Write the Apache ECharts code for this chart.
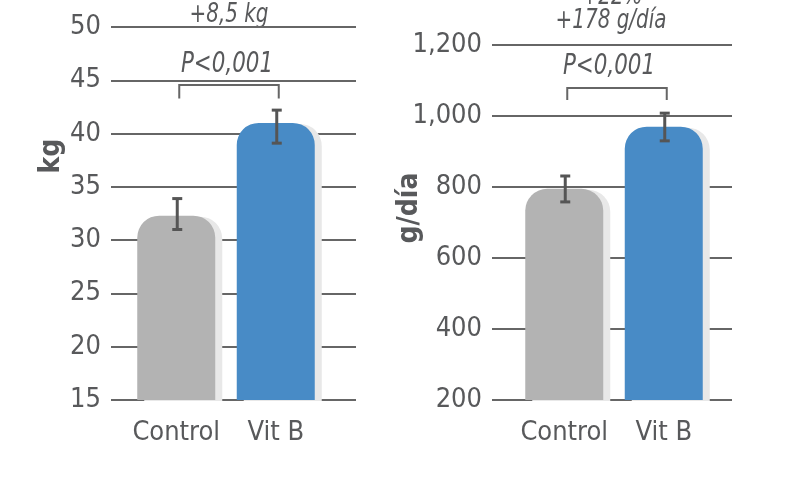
<!DOCTYPE html>
<html>
<head>
<meta charset="utf-8">
<script src="https://cdn.jsdelivr.net/npm/echarts@6/dist/echarts.min.js"></script>
<style>html,body{margin:0;padding:0;background:#fff}#c{width:800px;height:500px}</style>
</head>
<body>
<div id="c"></div>
<script>
// ---- data ----
var categories = ['Control', 'Vit B'];
var weightValues = [32.3, 41.0];        // kg
var weightErrLow = [31.0, 39.1];
var weightErrHigh = [33.9, 42.2];
var weightTicks = [15, 20, 25, 30, 35, 40, 45, 50];
var gainValues = [795, 970];            // g/día
var gainErrLow = [758, 930];
var gainErrHigh = [831, 1008];
var gainTicks = [200, 400, 600, 800, 1000, 1200];
var weightBracket = [44.55, 43.3];      // top, leg end
var gainBracket = [1079, 1045];
var barColors = ['#b3b3b3', '#488bc6'];

var FONT = '"Liberation Sans Narrow","DejaVu Sans Condensed","Roboto Condensed",sans-serif';
var TXT = '#58595b';
var GRIDC = '#666666';

function errSeries(xIdx, yIdx, low, high) {
  return {
    type: 'custom', xAxisIndex: xIdx, yAxisIndex: yIdx, z: 5,
    data: categories.map(function (c, i) { return [i, low[i], high[i]]; }),
    renderItem: function (params, api) {
      var lo = api.coord([api.value(0), api.value(1)]);
      var hi = api.coord([api.value(0), api.value(2)]);
      var x = lo[0] + 1, w = 5;
      var st = { stroke: '#555555', lineWidth: 3 };
      return { type: 'group', children: [
        { type: 'line', shape: { x1: x, y1: lo[1], x2: x, y2: hi[1] }, style: st },
        { type: 'line', shape: { x1: x - w, y1: lo[1], x2: x + w, y2: lo[1] }, style: st },
        { type: 'line', shape: { x1: x - w, y1: hi[1], x2: x + w, y2: hi[1] }, style: st }
      ]};
    }
  };
}
function bracketSeries(xIdx, yIdx, br) {
  return {
    type: 'custom', xAxisIndex: xIdx, yAxisIndex: yIdx, z: 5,
    data: [[0, 1, br[0], br[1]]],
    renderItem: function (params, api) {
      var a = api.coord([api.value(0), api.value(3)]);
      var b = api.coord([api.value(0), api.value(2)]);
      var c = api.coord([api.value(1), api.value(2)]);
      var d = api.coord([api.value(1), api.value(3)]);
      return { type: 'polyline', shape: { points: [[a[0] + 3, a[1]], [b[0] + 3, b[1]], [c[0] + 3, c[1]], [d[0] + 3, d[1]]] },
        style: { stroke: GRIDC, lineWidth: 2, fill: null } };
    }
  };
}
function barSeries(xIdx, yIdx, vals) {
  return {
    type: 'bar', xAxisIndex: xIdx, yAxisIndex: yIdx, barWidth: 78, z: 3,
    data: vals.map(function (v, i) {
      return { value: v, itemStyle: { color: barColors[i] } };
    }),
    itemStyle: { borderRadius: [22, 22, 0, 0], shadowColor: '#e8e8e8', shadowOffsetX: 7, shadowOffsetY: 1, shadowBlur: 0 }
  };
}
function valueAxis(gridIdx, ticks, show, fmt) {
  return {
    type: 'value', gridIndex: gridIdx, min: ticks[0], max: ticks[ticks.length - 1],
    interval: ticks[1] - ticks[0],
    axisLine: { show: false }, axisTick: { show: false },
    axisLabel: { show: show, color: TXT, fontFamily: FONT, fontSize: 27, margin: 10, formatter: fmt },
    splitLine: { show: show, lineStyle: { color: GRIDC, width: 2 } }
  };
}
function catAxis(gridIdx, show) {
  return {
    type: 'category', gridIndex: gridIdx, data: categories, show: show,
    axisLine: { show: false }, axisTick: { show: false },
    axisLabel: { interval: 0, color: TXT, fontFamily: FONT, fontSize: 27, margin: 19 }
  };
}
var fmtComma = function (v) { return String(v).replace(/\B(?=(\d{3})+(?!\d))/g, ','); };

function ann(x, y, text, size, extra) {
  var o = { type: 'text', x: x, y: y, scaleX: 0.82, style: { text: text, font: (extra || 'italic') + ' ' + size + 'px ' + FONT, fill: TXT, align: 'center', verticalAlign: 'middle' } };
  return o;
}

var chart = echarts.init(document.getElementById('c'), null, { renderer: 'canvas' });
chart.setOption({
  animation: false,
  grid: [
    { left: 111, right: 444, top: 27, bottom: 100 },
    { left: 126.5, right: 474.5, top: 27, bottom: 100 },
    { left: 492, right: 68, top: 45, bottom: 100 },
    { left: 514.5, right: 86.5, top: 45, bottom: 100 }
  ],
  xAxis: [catAxis(0, false), catAxis(1, true), catAxis(2, false), catAxis(3, true)],
  yAxis: [
    valueAxis(0, weightTicks, true), valueAxis(1, weightTicks, false),
    valueAxis(2, gainTicks, true, fmtComma), valueAxis(3, gainTicks, false)
  ],
  series: [
    barSeries(1, 1, weightValues), errSeries(1, 1, weightErrLow, weightErrHigh), bracketSeries(1, 1, weightBracket),
    barSeries(3, 3, gainValues), errSeries(3, 3, gainErrLow, gainErrHigh), bracketSeries(3, 3, gainBracket)
  ],
  graphic: [
    { type: 'text', x: 52, y: 156, rotation: Math.PI / 2, style: { text: 'kg', font: 'bold 28px ' + FONT, fill: TXT, align: 'center', verticalAlign: 'middle' } },
    { type: 'text', x: 410, y: 208, rotation: Math.PI / 2, style: { text: 'g/día', font: 'bold 28px ' + FONT, fill: TXT, align: 'center', verticalAlign: 'middle' } },
    ann(229, 15, '+8,5 kg', 27),
    ann(227, 64, 'P<0,001', 29),
    ann(612, -3, '+22%', 27),
    ann(611, 21, '+178 g/día', 27),
    ann(609, 66, 'P<0,001', 29)
  ]
});
</script>
</body>
</html>
